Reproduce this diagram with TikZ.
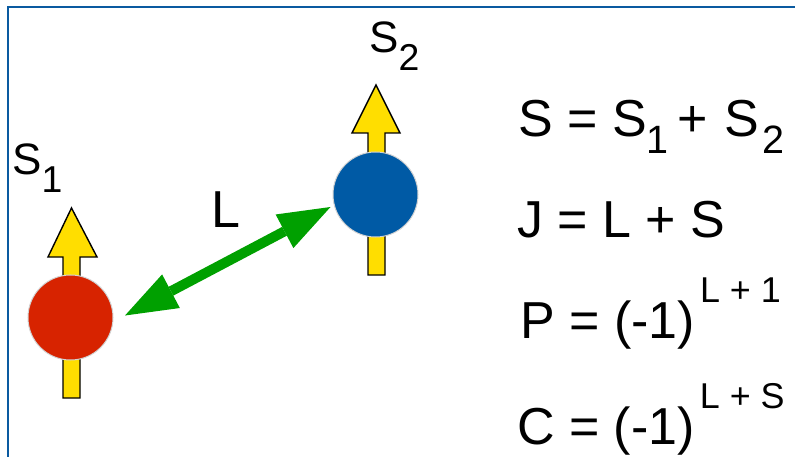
\documentclass[tikz,border=0pt]{standalone}
\usepackage{fontspec}
\setmainfont{Liberation Sans}
\usetikzlibrary{arrows.meta}
\definecolor{frameblue}{RGB}{10,90,160}
\definecolor{pred}{RGB}{215,35,0}
\definecolor{pblue}{RGB}{0,90,165}
\definecolor{pyellow}{RGB}{255,222,0}
\definecolor{pgreen}{RGB}{0,160,0}
\newcommand{\lblsub}[1]{\raisebox{-18pt}{\scalebox{0.85}{#1}}}
\newcommand{\eqsub}[1]{\raisebox{-17pt}{\scalebox{0.76}{#1}}}
\newcommand{\mysup}[1]{\hspace{5pt}\raisebox{36pt}{\scalebox{0.69}{#1}}}
\begin{document}
\begin{tikzpicture}[x=1pt,y=-1pt,
  frame/.style={draw=frameblue,line width=2.5pt},
  spin/.style={draw=black,fill=pyellow,line width=1.4pt,line join=miter},
  particle/.style={circle,minimum size=85pt,inner sep=0pt,draw=gray!35,line width=1pt},
  lvec/.style={draw=pgreen,line width=10pt,
    arrows={Triangle[length=52pt,width=38pt,line width=0pt]-Triangle[length=52pt,width=38pt,line width=0pt]}},
  lbl/.style={inner sep=0pt,anchor=base west,font=\fontsize{44}{53}\selectfont},
  eq/.style={inner sep=0pt,anchor=base west,font=\fontsize{52}{62}\selectfont}]
\useasboundingbox (0,0) rectangle (795,457);
\draw[frame] (8,457) -- (8,6.8) -- (795,6.8);
% spin arrows
\draw[spin] (63,398) -- (63,257) -- (48,257) -- (71.5,208) -- (97,257) -- (80,257) -- (80,398) -- cycle;
\draw[spin] (368,275) -- (368,133) -- (352,133) -- (376,85) -- (400,133) -- (385,133) -- (385,275) -- cycle;
% particles
\node[particle,fill=pred] (p1) at (70.5,317.5) {};
\node[particle,fill=pblue] (p2) at (375.5,194.5) {};
% orbital angular momentum
\coordinate (l1) at (125,315.5);
\coordinate (l2) at (330.5,207);
\draw[lvec] (l1) -- (l2);
% labels
\node[lbl] (s1) at (12,175) {S\lblsub{1}};
\node[lbl] (s2) at (369,53) {S\lblsub{2}};
\node[eq] (ll) at (211,228) {L};
% equations
\node[eq] (e1) at (518,137) {S = S\eqsub{1}\hspace{9pt}+\hspace{16pt}S\hspace{4pt}\eqsub{2}};
\node[eq] (e2) at (517,237) {J = L + S};
\node[eq] (e3) at (520,338) {P = (-1)\mysup{L + 1}};
\node[eq] (e4) at (517,444) {C = (-1)\mysup{L + S}};
\end{tikzpicture}
\end{document}
